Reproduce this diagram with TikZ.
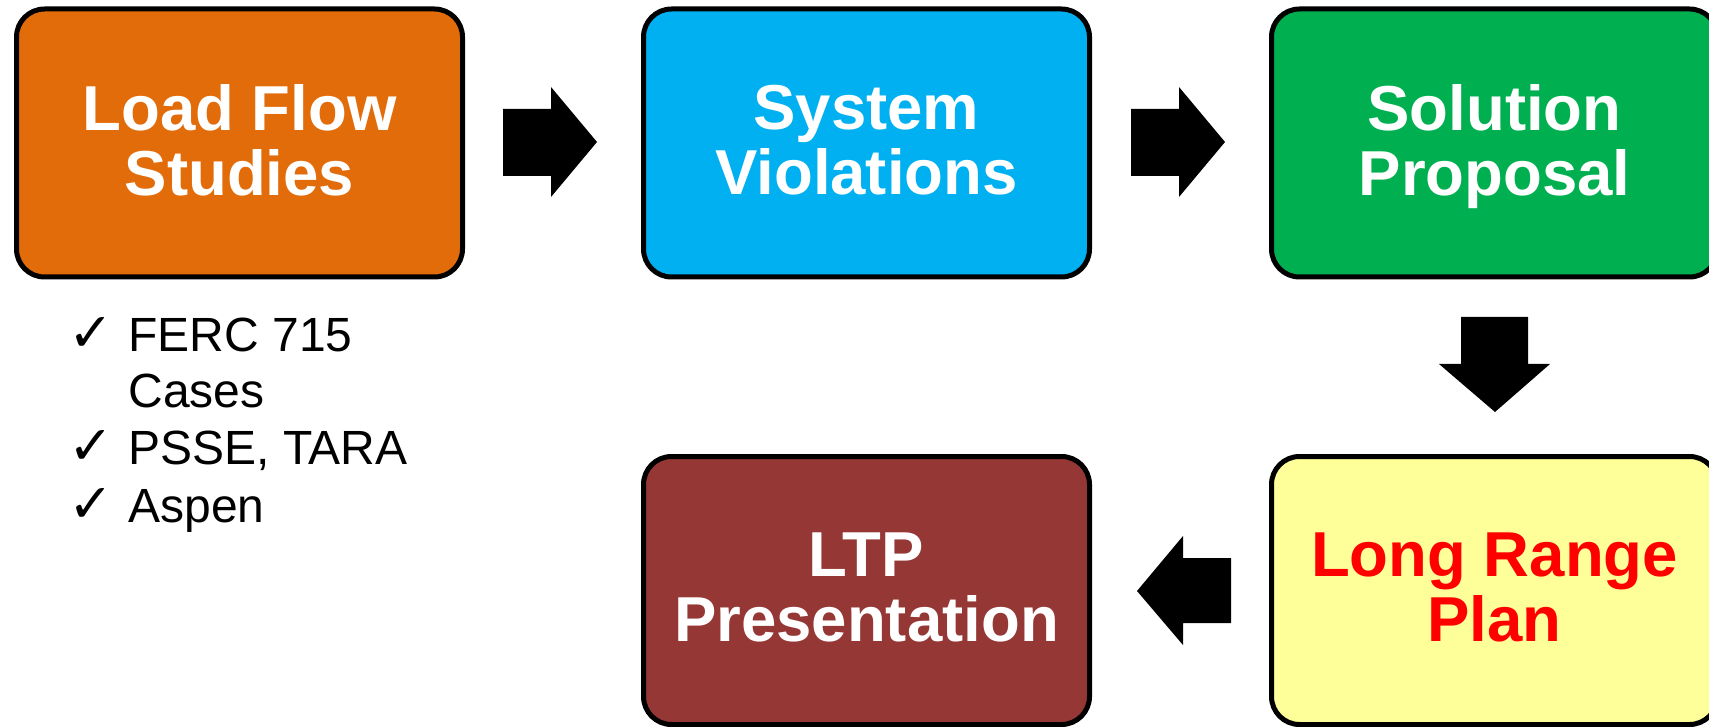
\documentclass[tikz,border=0pt]{standalone}
\usepackage{fontspec}
\setmainfont{Liberation Sans}
\newfontfamily\symfont{DejaVu Sans}
\definecolor{cOrange}{HTML}{E36C0A}
\definecolor{cBlue}{HTML}{00B0F0}
\definecolor{cGreen}{HTML}{00B050}
\definecolor{cYellow}{HTML}{FFFF99}
\definecolor{cBrown}{HTML}{953735}
\definecolor{cRed}{HTML}{FF0000}
\tikzset{
  stepbox/.style={draw=black, line width=2.5pt, rounded corners=14pt,
    minimum width=223pt, minimum height=134pt, inner sep=0pt,
    align=center, text=white, text depth=0pt,
    font=\fontsize{31.75}{32.5}\selectfont\bfseries},
  boxtext/.style={yshift=1.5pt},
  blockarrow/.style={fill=black, draw=none},
  listitem/.style={anchor=base west, inner sep=0pt, font=\fontsize{24}{28}\selectfont},
  checkmark/.style={anchor=base west, inner sep=0pt, font=\symfont\fontsize{27}{30}\selectfont}
}
\begin{document}
\begin{tikzpicture}[x=0.5pt,y=-0.5pt]
\useasboundingbox (0,0) rectangle (1709,727);
\clip (0,0) rectangle (1709,727);
\fill[white] (0,0) rectangle (1709,727);
% boxes
\node[stepbox, fill=cOrange] (load) at (239.5,143) {};
\node[boxtext, white, font=\fontsize{31.75}{32.5}\selectfont\bfseries, align=center, text depth=0pt] (loadt) at (load) {Load Flow\\Studies};
\node[stepbox, fill=cBlue] (viol) at (866.5,143) {};
\node[boxtext, white, font=\fontsize{31.75}{32.5}\selectfont\bfseries, align=center, text depth=0pt] (violt) at (viol) {System\\Violations};
\node[stepbox, fill=cGreen] (sol) at (1494.5,143) {};
\node[boxtext, white, font=\fontsize{31.75}{32.5}\selectfont\bfseries, align=center, text depth=0pt] (solt) at (sol) {Solution\\Proposal};
\node[stepbox, fill=cYellow] (plan) at (1494.5,590.5) {};
\node[boxtext, cRed, font=\fontsize{31.75}{32.5}\selectfont\bfseries, align=center, text depth=0pt] (plant) at (plan) {Long Range\\Plan};
\node[stepbox, fill=cBrown] (ltp) at (866.5,590.5) {};
\node[boxtext, white, font=\fontsize{31.75}{32.5}\selectfont\bfseries, align=center, text depth=0pt] (ltpt) at (ltp) {LTP\\Presentation};
% block arrows
\fill[blockarrow] (503,109) -- (551,109) -- (551,87) -- (597,142) -- (551,197) -- (551,176) -- (503,176) -- cycle;
\fill[blockarrow] (1131,109) -- (1179,109) -- (1179,87) -- (1225,142) -- (1179,197) -- (1179,176) -- (1131,176) -- cycle;
\fill[blockarrow] (1461,317) -- (1528,317) -- (1528,364) -- (1550,364) -- (1495,412) -- (1439,364) -- (1461,364) -- cycle;
\fill[blockarrow] (1231,558) -- (1183,558) -- (1183,536) -- (1137,591) -- (1183,645) -- (1183,623) -- (1231,623) -- cycle;
% list
\node[checkmark] (c1) at (68,351) {✓};
\node[listitem] (l1) at (128,351) {FERC 715};
\node[listitem] (l2) at (128,408) {Cases};
\node[checkmark] (c3) at (68,465) {✓};
\node[listitem] (l3) at (128,465) {PSSE, TARA};
\node[checkmark] (c4) at (68,522) {✓};
\node[listitem] (l4) at (128,522) {Aspen};
\end{tikzpicture}
\end{document}
